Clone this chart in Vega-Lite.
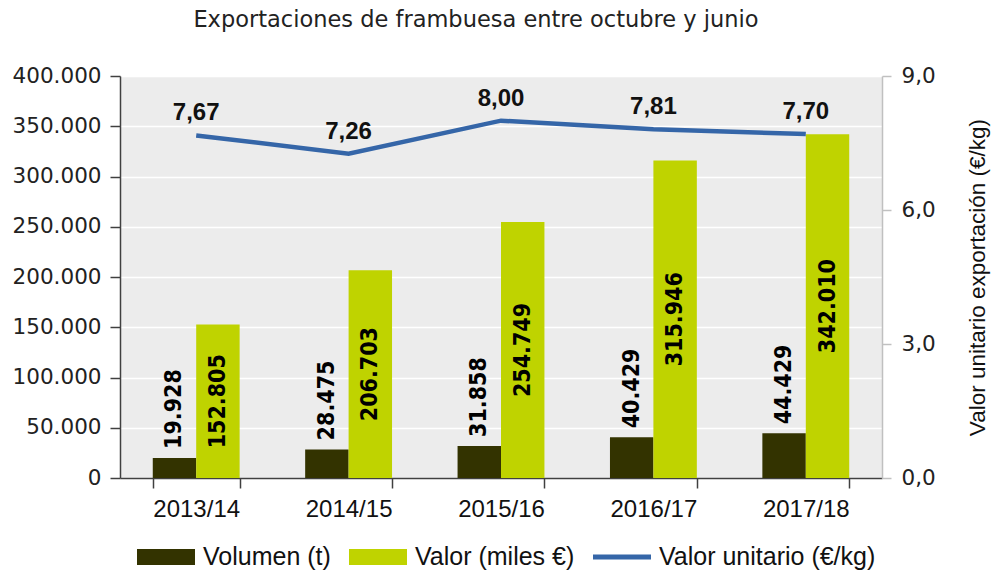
{
  "$schema": "https://vega.github.io/schema/vega-lite/v6.json",
  "width": 762,
  "height": 402,
  "autosize": {"type": "none"},
  "padding": {"left": 120, "top": 76, "right": 116, "bottom": 93},
  "background": "white",
  "title": {
    "text": "Exportaciones de frambuesa entre octubre y junio",
    "font": "DejaVu Sans",
    "fontSize": 22.5,
    "fontWeight": "normal",
    "color": "#222222",
    "anchor": "middle",
    "frame": "group",
    "baseline": "alphabetic",
    "offset": 16,
    "dx": -25
  },
  "config": {
    "locale": {"number": {"decimal": ",", "thousands": ".", "grouping": [3], "currency": ["", " €"]}},
    "view": {"fill": "#ececec", "stroke": null},
    "font": "Liberation Sans"
  },
  "datasets": {
    "barras": [
      {"campana": "2013/14", "serie": "Volumen (t)", "valor": 19928},
      {"campana": "2013/14", "serie": "Valor (miles €)", "valor": 152805},
      {"campana": "2014/15", "serie": "Volumen (t)", "valor": 28475},
      {"campana": "2014/15", "serie": "Valor (miles €)", "valor": 206703},
      {"campana": "2015/16", "serie": "Volumen (t)", "valor": 31858},
      {"campana": "2015/16", "serie": "Valor (miles €)", "valor": 254749},
      {"campana": "2016/17", "serie": "Volumen (t)", "valor": 40429},
      {"campana": "2016/17", "serie": "Valor (miles €)", "valor": 315946},
      {"campana": "2017/18", "serie": "Volumen (t)", "valor": 44429},
      {"campana": "2017/18", "serie": "Valor (miles €)", "valor": 342010}
    ],
    "unitario": [
      {"campana": "2013/14", "precio": 7.67},
      {"campana": "2014/15", "precio": 7.26},
      {"campana": "2015/16", "precio": 8.00},
      {"campana": "2016/17", "precio": 7.81},
      {"campana": "2017/18", "precio": 7.70}
    ]
  },
  "layer": [
    {
      "data": {"name": "barras"},
      "layer": [
        {
          "mark": {"type": "bar"},
          "encoding": {
            "x": {
              "field": "campana", "type": "nominal", "sort": null, "title": null,
              "scale": {"paddingInner": 0.43, "paddingOuter": 0.215},
              "axis": {
                "labelAngle": 0, "labelFont": "Liberation Sans", "labelFontSize": 24, "labelColor": "#111111",
                "labelPadding": 9, "tickBand": "extent", "tickSize": 10, "tickColor": "#404040",
                "domainColor": "#404040", "domainWidth": 1.5, "tickWidth": 1.5, "grid": false
              }
            },
            "xOffset": {
              "field": "serie", "type": "nominal",
              "scale": {"domain": ["Volumen (t)", "Valor (miles €)"], "paddingInner": 0, "paddingOuter": 0}
            },
            "y": {
              "field": "valor", "type": "quantitative", "title": null,
              "scale": {"domain": [0, 400000]},
              "axis": {
                "orient": "left", "format": ",.0f",
                "values": [0, 50000, 100000, 150000, 200000, 250000, 300000, 350000, 400000],
                "grid": true, "gridColor": "#ffffff", "gridWidth": 1.5,
                "domainColor": "#404040", "domainWidth": 1.5, "tickColor": "#404040", "tickWidth": 1.5, "tickSize": 10,
                "labelFont": "DejaVu Sans", "labelFontSize": 21.5, "labelColor": "#222222", "labelPadding": 9
              }
            },
            "color": {
              "field": "serie", "type": "nominal",
              "scale": {
                "domain": ["Volumen (t)", "Valor (miles €)", "Valor unitario (€/kg)"],
                "range": ["#333300", "#bfd300", "#3566a8"]
              },
              "legend": {
                "orient": "none", "legendX": 17, "legendY": 452, "direction": "horizontal", "title": null,
                "labelFont": "Liberation Sans", "labelFontSize": 25, "labelColor": "#111111", "labelLimit": 400,
                "symbolSize": 3364, "symbolType": "M-1,-0.28h2v0.56h-2Z", "symbolStrokeWidth": 0,
                "labelOffset": 8, "columnPadding": 18,
                "encode": {
                  "symbols": {
                    "update": {
                      "shape": {"signal": "datum.value === 'Valor unitario (€/kg)' ? 'M-1,-0.09h2v0.18h-2Z' : 'M-1,-0.28h2v0.56h-2Z'"},
                      "fill": {"signal": "scale('color', datum.value)"},
                      "stroke": {"value": "transparent"},
                      "opacity": {"value": 1}
                    }
                  }
                }
              }
            }
          }
        },
        {
          "transform": [{"filter": "datum.serie === 'Volumen (t)'"}],
          "mark": {
            "type": "text", "angle": 270, "align": "left", "baseline": "middle", "dx": 9,
            "font": "DejaVu Sans Condensed", "fontSize": 23, "fontWeight": "bold", "color": "#000000"
          },
          "encoding": {
            "x": {"field": "campana", "type": "nominal", "sort": null},
            "xOffset": {"field": "serie", "type": "nominal", "scale": {"domain": ["Volumen (t)", "Valor (miles €)"]}},
            "y": {"field": "valor", "type": "quantitative"},
            "text": {"field": "valor", "type": "quantitative", "format": ",.0f"}
          }
        }
      ]
    },
    {
      "data": {"name": "barras"},
      "transform": [{"filter": "datum.serie === 'Valor (miles €)'"}],
      "mark": {
        "type": "text", "angle": 270, "align": "center", "baseline": "middle",
        "font": "DejaVu Sans Condensed", "fontSize": 23, "fontWeight": "bold", "color": "#000000"
      },
      "encoding": {
        "x": {"field": "campana", "type": "nominal", "sort": null},
        "xOffset": {"field": "serie", "type": "nominal", "scale": {"domain": ["Volumen (t)", "Valor (miles €)"]}},
        "y": {"field": "valor", "type": "quantitative", "scale": {"domain": [0, 800000]}, "axis": null},
        "text": {"field": "valor", "type": "quantitative", "format": ",.0f"}
      }
    },
    {
      "data": {"name": "unitario"},
      "layer": [
        {
          "mark": {"type": "line", "strokeWidth": 4.5},
          "encoding": {
            "x": {"field": "campana", "type": "nominal", "sort": null},
            "y": {
              "field": "precio", "type": "quantitative",
              "scale": {"domain": [0, 9]},
              "axis": {
                "orient": "right", "values": [0, 3, 6, 9], "format": ".1f", "grid": false,
                "title": "Valor unitario exportación (€/kg)",
                "titleFont": "Liberation Sans", "titleFontSize": 22.5, "titleFontWeight": "normal", "titleColor": "#111111",
                "titleAngle": 270, "titleBaseline": "top", "titlePadding": 31,
                "domainColor": "#c0c0c0", "domainWidth": 1.5, "tickColor": "#c0c0c0", "tickWidth": 1.5, "tickSize": 9,
                "labelFont": "DejaVu Sans", "labelFontSize": 21.5, "labelColor": "#222222", "labelPadding": 10
              }
            },
            "color": {"datum": "Valor unitario (€/kg)"}
          }
        },
        {
          "mark": {
            "type": "text", "dy": -22, "baseline": "middle", "align": "center",
            "font": "Liberation Sans", "fontSize": 24, "fontWeight": "bold", "color": "#111111"
          },
          "encoding": {
            "x": {"field": "campana", "type": "nominal", "sort": null},
            "y": {"field": "precio", "type": "quantitative"},
            "text": {"field": "precio", "type": "quantitative", "format": ".2f"}
          }
        }
      ]
    }
  ],
  "resolve": {"scale": {"y": "independent"}}
}
